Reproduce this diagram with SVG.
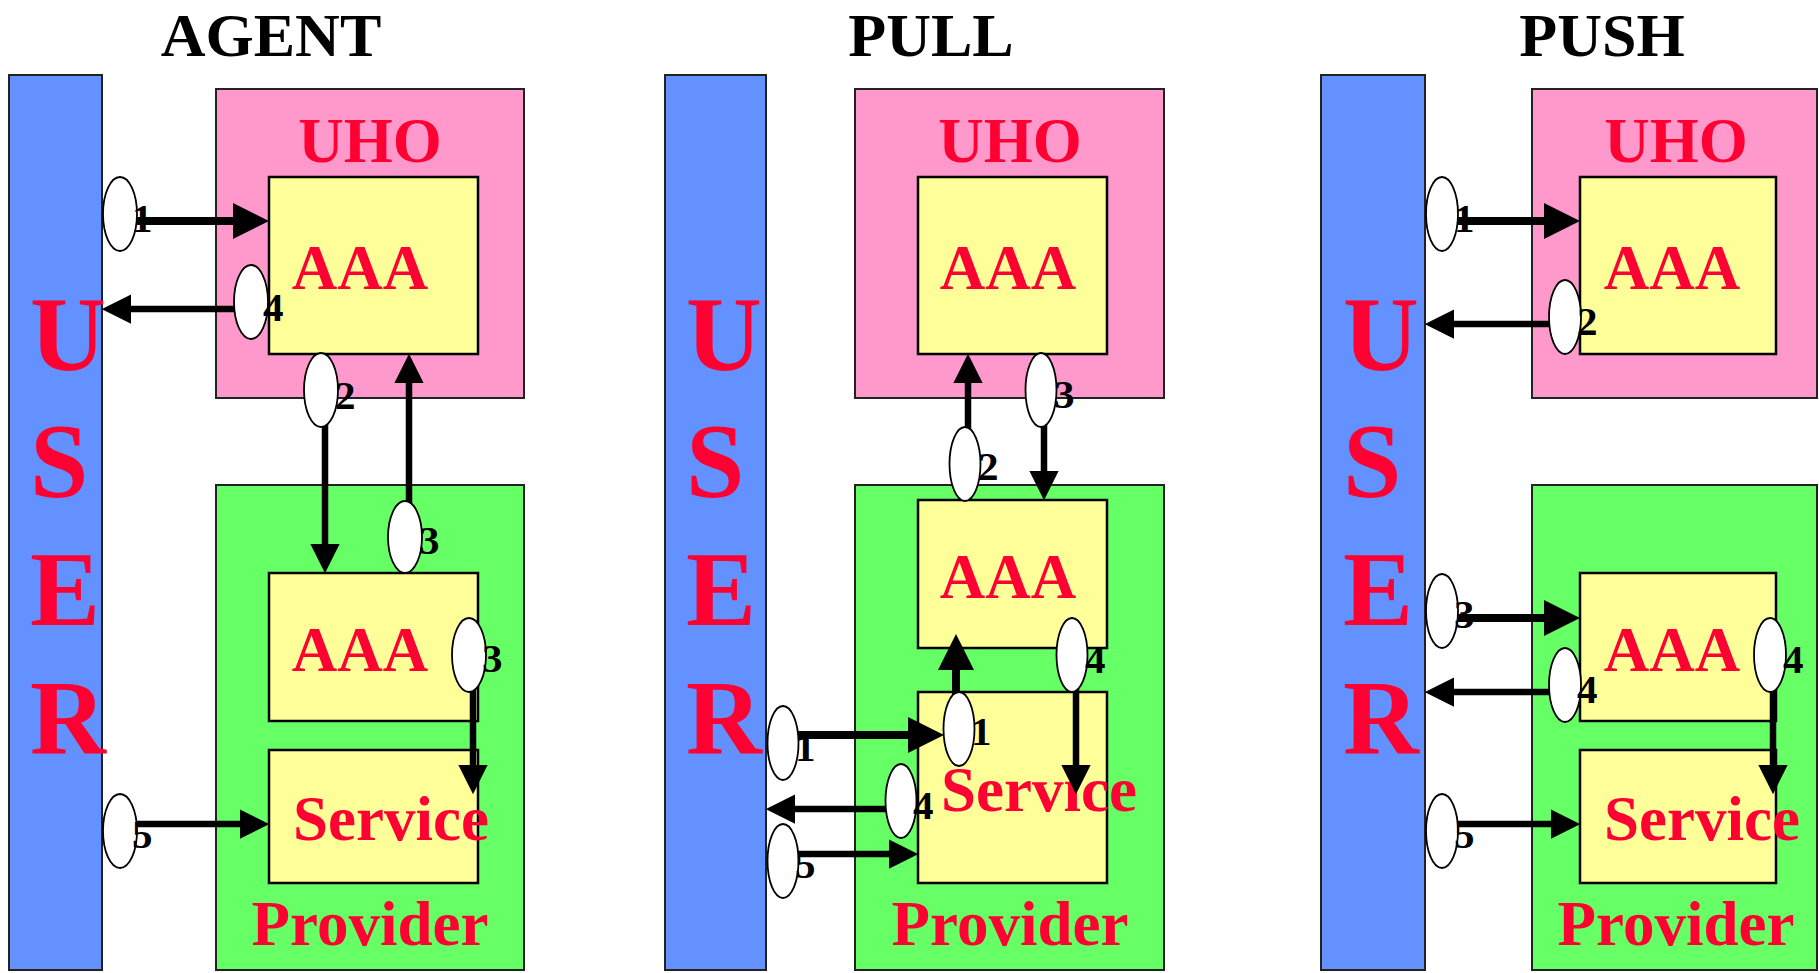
<svg xmlns="http://www.w3.org/2000/svg" width="1819" height="973" viewBox="0 0 1819 973">
<style>
text{font-family:"Liberation Serif","Times New Roman",serif;font-weight:bold}
.title{font-size:62px;fill:#000;text-anchor:middle}
.lbl{font-size:63px;fill:#FF0033;text-anchor:middle}
.user{font-size:105px;fill:#FF0033}
.bar{fill:#6391FF;stroke:#222;stroke-width:2}
.uho{fill:#FF99CC;stroke:#222;stroke-width:2}
.prov{fill:#66FF66;stroke:#222;stroke-width:2}
.inner{fill:#FFFF99;stroke:#000;stroke-width:2.5}
.ln{stroke:#000;stroke-width:6.5;fill:none;marker-end:url(#ah)}
.lt{stroke:#000;stroke-width:8;fill:none;marker-end:url(#ah)}
.ov{fill:#fff;stroke:#000;stroke-width:1.8}
.num{font-size:41px;fill:#000}
</style>
<defs>
<marker id="ah" viewBox="0 0 4.5 4.5" refX="0" refY="2.25" markerWidth="4.5" markerHeight="4.5" markerUnits="strokeWidth" orient="auto">
<path d="M0,0 L4.5,2.25 L0,4.5 z" fill="#000"/>
</marker>
</defs>
<rect width="1819" height="973" fill="#fff"/>

<!-- AGENT panel -->
<g id="agent-title"><text class="title" x="271" y="56">AGENT</text></g>
<g id="agent-user">
<rect class="bar" x="9" y="75" width="93" height="895"/>
<text class="user" x="30" y="370">U</text>
<text class="user" x="30" y="497">S</text>
<text class="user" x="30" y="625">E</text>
<text class="user" x="30" y="753">R</text>
</g>
<g id="agent-uho">
<rect class="uho" x="216" y="89" width="308" height="309"/>
<text class="lbl" x="370" y="162">UHO</text>
</g>
<g id="agent-uho-aaa">
<rect class="inner" x="269" y="177" width="209" height="177"/>
<text class="lbl" x="360" y="289">AAA</text>
</g>
<g id="agent-provider">
<rect class="prov" x="216" y="485" width="308" height="485"/>
<text class="lbl" x="370" y="945">Provider</text>
</g>
<g id="agent-prov-aaa">
<rect class="inner" x="269" y="573" width="209" height="148"/>
<text class="lbl" x="360" y="671">AAA</text>
</g>
<g id="agent-service">
<rect class="inner" x="269" y="750" width="209" height="133"/>
<text class="lbl" x="391" y="840">Service</text>
</g>

<!-- PULL panel -->
<g id="pull-title"><text class="title" x="931" y="56">PULL</text></g>
<g id="pull-user">
<rect class="bar" x="665" y="75" width="101" height="895"/>
<text class="user" x="686" y="370">U</text>
<text class="user" x="686" y="497">S</text>
<text class="user" x="686" y="625">E</text>
<text class="user" x="686" y="753">R</text>
</g>
<g id="pull-uho">
<rect class="uho" x="855" y="89" width="309" height="309"/>
<text class="lbl" x="1010" y="162">UHO</text>
</g>
<g id="pull-uho-aaa">
<rect class="inner" x="918" y="177" width="189" height="177"/>
<text class="lbl" x="1008" y="289">AAA</text>
</g>
<g id="pull-provider">
<rect class="prov" x="855" y="485" width="309" height="485"/>
<text class="lbl" x="1010" y="945">Provider</text>
</g>
<g id="pull-prov-aaa">
<rect class="inner" x="918" y="500" width="189" height="148"/>
<text class="lbl" x="1008" y="598">AAA</text>
</g>
<g id="pull-service">
<rect class="inner" x="918" y="692" width="189" height="191"/>
<text class="lbl" x="1039" y="811">Service</text>
</g>

<!-- PUSH panel -->
<g id="push-title"><text class="title" x="1602" y="56">PUSH</text></g>
<g id="push-user">
<rect class="bar" x="1321" y="75" width="104" height="895"/>
<text class="user" x="1343" y="370">U</text>
<text class="user" x="1343" y="497">S</text>
<text class="user" x="1343" y="625">E</text>
<text class="user" x="1343" y="753">R</text>
</g>
<g id="push-uho">
<rect class="uho" x="1532" y="89" width="285" height="309"/>
<text class="lbl" x="1676" y="162">UHO</text>
</g>
<g id="push-uho-aaa">
<rect class="inner" x="1580" y="177" width="196" height="177"/>
<text class="lbl" x="1672" y="289">AAA</text>
</g>
<g id="push-provider">
<rect class="prov" x="1532" y="485" width="285" height="485"/>
<text class="lbl" x="1676" y="945">Provider</text>
</g>
<g id="push-prov-aaa">
<rect class="inner" x="1580" y="573" width="196" height="148"/>
<text class="lbl" x="1672" y="671">AAA</text>
</g>
<g id="push-service">
<rect class="inner" x="1580" y="750" width="196" height="133"/>
<text class="lbl" x="1702" y="840">Service</text>
</g>

<g id="connectors">
<!-- AGENT -->
<line class="lt" x1="120" y1="221" x2="233" y2="221"/>
<line class="ln" x1="251" y1="309" x2="131" y2="309"/>
<line class="ln" x1="325" y1="390" x2="325" y2="544"/>
<line class="ln" x1="409" y1="537" x2="409" y2="383"/>
<line class="ln" x1="473" y1="655" x2="473" y2="765"/>
<line class="ln" x1="120" y1="824" x2="240" y2="824"/>
<!-- PULL -->
<line class="ln" x1="968" y1="464" x2="968" y2="383"/>
<line class="ln" x1="1044" y1="390" x2="1044" y2="471"/>
<line class="lt" x1="783" y1="735" x2="908" y2="735"/>
<line class="lt" x1="956" y1="729" x2="956" y2="670"/>
<line class="ln" x1="901" y1="809" x2="795" y2="809"/>
<line class="ln" x1="783" y1="854" x2="889" y2="854"/>
<line class="ln" x1="1076" y1="655" x2="1076" y2="765"/>
<!-- PUSH -->
<line class="lt" x1="1442" y1="221" x2="1544" y2="221"/>
<line class="ln" x1="1565" y1="324" x2="1454" y2="324"/>
<line class="lt" x1="1442" y1="618" x2="1544" y2="618"/>
<line class="ln" x1="1565" y1="692" x2="1454" y2="692"/>
<line class="ln" x1="1773" y1="655" x2="1773" y2="765"/>
<line class="ln" x1="1442" y1="824" x2="1551" y2="824"/>
</g>

<g id="step-labels">
<!-- AGENT -->
<ellipse class="ov" cx="120" cy="214" rx="17" ry="37"/><text class="num" x="132" y="232">1</text>
<ellipse class="ov" cx="251" cy="302" rx="17" ry="37"/><text class="num" x="263" y="321">4</text>
<ellipse class="ov" cx="321" cy="390" rx="17" ry="37"/><text class="num" x="335" y="409">2</text>
<ellipse class="ov" cx="405" cy="537" rx="17" ry="36"/><text class="num" x="419" y="554">3</text>
<ellipse class="ov" cx="469" cy="655" rx="17" ry="37"/><text class="num" x="482" y="672">3</text>
<ellipse class="ov" cx="120" cy="831" rx="17" ry="37"/><text class="num" x="132" y="848">5</text>
<!-- PULL -->
<ellipse class="ov" cx="965" cy="464" rx="15.5" ry="37"/><text class="num" x="978" y="480">2</text>
<ellipse class="ov" cx="1041" cy="390" rx="15.5" ry="37"/><text class="num" x="1054" y="408">3</text>
<ellipse class="ov" cx="959" cy="729" rx="15.5" ry="37"/><text class="num" x="971" y="745">1</text>
<ellipse class="ov" cx="783" cy="743" rx="15.5" ry="37"/><text class="num" x="795" y="761">1</text>
<ellipse class="ov" cx="901" cy="801" rx="15.5" ry="37"/><text class="num" x="913" y="819">4</text>
<ellipse class="ov" cx="783" cy="861" rx="15.5" ry="37"/><text class="num" x="795" y="878">5</text>
<ellipse class="ov" cx="1072" cy="655" rx="15.5" ry="37"/><text class="num" x="1085" y="673">4</text>
<!-- PUSH -->
<ellipse class="ov" cx="1442" cy="214" rx="16" ry="37"/><text class="num" x="1454" y="232">1</text>
<ellipse class="ov" cx="1565" cy="317" rx="16" ry="37"/><text class="num" x="1577" y="335">2</text>
<ellipse class="ov" cx="1442" cy="611" rx="16" ry="37"/><text class="num" x="1454" y="628">3</text>
<ellipse class="ov" cx="1565" cy="685" rx="16" ry="37"/><text class="num" x="1577" y="703">4</text>
<ellipse class="ov" cx="1770" cy="655" rx="16" ry="37"/><text class="num" x="1783" y="673">4</text>
<ellipse class="ov" cx="1442" cy="831" rx="16" ry="37"/><text class="num" x="1454" y="848">5</text>
</g>
</svg>
